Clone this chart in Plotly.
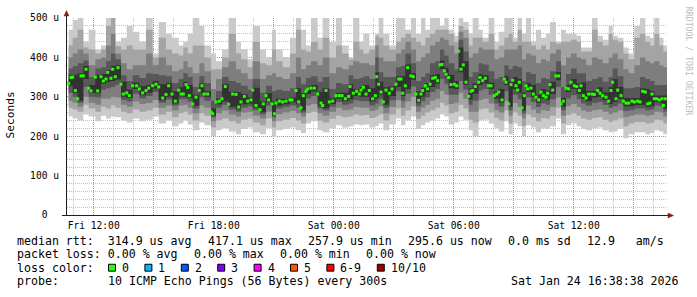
import pandas as pd
import plotly.graph_objects as go

START = "2026-01-23 10:40"
END = "2026-01-24 16:40"

# minutes after START of each median reading
median_minutes = [
    5, 12, 17, 25, 32, 42, 49, 57, 65, 72, 85, 92, 102, 109, 117, 122, 132, 137, 145, 153, 162, 169, 179, 187, 197, 209, 217, 227, 237, 245, 257, 267, 275, 287, 297, 305, 315, 325, 335, 342, 349, 357,
    362, 367, 377, 387, 397, 405, 412, 422, 432, 437, 447, 457, 465, 475, 485, 497, 507, 515, 522, 532, 542, 552, 557, 567, 579, 589, 597, 605, 615, 622, 627, 637, 647, 657, 669, 675, 687, 695, 702, 709, 717,
    722, 732, 742, 752, 762, 767, 777, 787, 797, 807, 817, 825, 835, 845, 849, 859, 869, 877, 882, 889, 897, 907, 917, 925, 929, 935, 942, 949, 957, 967, 975, 987, 995, 1002, 1007, 1015, 1022, 1032, 1039, 1047, 1055, 1062, 1067, 1075,
    1082, 1089, 1097, 1105, 1112, 1119, 1125, 1132, 1137, 1145, 1152, 1162, 1169, 1175, 1182, 1189, 1197, 1205, 1212, 1217, 1225, 1235, 1239, 1247, 1255, 1265, 1272, 1282, 1289, 1295, 1305, 1312, 1317, 1325, 1332, 1337, 1347, 1352, 1357, 1365, 1372, 1377, 1382, 1392, 1399, 1407, 1415, 1422, 1429, 1437,
    1442, 1449, 1457, 1467, 1475, 1482, 1489, 1497, 1505, 1512, 1522, 1529, 1537, 1542, 1549, 1557, 1565, 1575, 1582, 1592, 1599, 1607, 1617, 1625, 1632, 1637, 1647, 1652, 1662, 1669, 1677, 1685, 1695, 1702, 1712, 1719, 1727, 1735, 1742, 1749, 1755, 1762, 1769, 1777, 1785, 1789, 1795,
]
# median rtt in microseconds
median_us = [
    334, 349, 350, 316, 295, 353, 353, 370, 322, 315, 350, 315, 351, 340, 345, 362, 347, 370, 351, 374, 332, 307, 310, 303, 328, 328, 320, 310, 316, 322, 328, 332, 325, 297, 306, 328, 307, 289, 317, 307, 307, 331,
    324, 303, 282, 299, 316, 328, 307, 307, 262, 257, 287, 289, 295, 326, 281, 307, 306, 274, 287, 301, 289, 292, 317, 278, 267, 282, 303, 292, 282, 257, 284, 289, 287, 289, 292, 292, 316, 287, 272, 303, 314,
    320, 322, 322, 307, 284, 278, 316, 287, 289, 303, 303, 303, 295, 301, 326, 309, 314, 307, 317, 324, 307, 316, 295, 303, 351, 332, 312, 287, 317, 309, 320, 332, 345, 345, 309, 328, 374, 353, 351, 307, 291, 307, 316, 328,
    320, 332, 347, 349, 341, 381, 382, 366, 357, 349, 331, 332, 328, 416, 370, 381, 337, 301, 314, 316, 326, 337, 349, 341, 347, 328, 328, 303, 307, 312, 292, 345, 337, 282, 331, 342, 328, 317, 337, 272, 303, 328, 320, 322, 307, 299, 292, 312, 303, 299,
    309, 331, 317, 353, 353, 282, 289, 322, 320, 337, 328, 326, 316, 328, 303, 297, 307, 307, 306, 316, 309, 303, 299, 289, 316, 337, 295, 317, 303, 289, 284, 284, 289, 287, 289, 287, 314, 312, 282, 284, 307, 295, 295, 292, 295, 278, 295,
]

# smoke: the 10 sorted ping rtts (us) of each pair of readings, fastest (p1) to slowest (p10)
p1 = [250, 245, 240, 255, 250, 238, 252, 245, 250, 248, 240, 235, 245, 238, 242, 250, 232, 240, 225, 232,
      240, 230, 215, 235, 228, 200, 215, 220, 212, 205, 218, 222, 210, 205, 220, 198, 215, 218, 222, 215,
      208, 232, 238, 215, 210, 220, 228, 222, 225, 230, 228, 230, 222, 226, 232, 215, 230, 245, 228, 240,
      250, 218, 228, 235, 240, 245, 255, 250, 230, 235, 250, 242, 215, 200, 240, 242, 232, 220, 212, 238,
      205, 232, 225, 200, 228, 222, 210, 220, 218, 225, 245, 205, 228, 232, 225, 218, 215, 220, 222, 215,
      210, 212, 218, 195, 205, 210, 210, 205, 208, 215, 212, 205]
p2 = [272, 268, 262, 280, 270, 262, 275, 270, 278, 272, 262, 258, 268, 262, 265, 272, 255, 262, 248, 258,
      262, 255, 240, 258, 252, 222, 240, 245, 238, 232, 242, 245, 235, 228, 245, 222, 238, 242, 246, 240,
      232, 258, 262, 240, 235, 244, 252, 248, 250, 255, 252, 254, 246, 250, 256, 240, 255, 270, 252, 265,
      276, 244, 252, 260, 266, 272, 285, 278, 258, 262, 280, 270, 242, 235, 268, 270, 260, 246, 240, 265,
      232, 260, 252, 226, 255, 248, 238, 246, 244, 252, 272, 232, 254, 258, 252, 245, 242, 246, 248, 242,
      236, 240, 245, 225, 232, 236, 236, 232, 234, 242, 240, 232]
p3 = [290, 285, 275, 300, 285, 280, 295, 295, 300, 298, 280, 275, 288, 282, 284, 292, 272, 278, 265, 278,
      280, 272, 258, 278, 272, 238, 258, 265, 255, 250, 260, 262, 252, 245, 262, 238, 256, 260, 264, 258,
      250, 278, 282, 258, 252, 262, 272, 266, 268, 274, 272, 272, 264, 268, 276, 258, 274, 292, 272, 288,
      300, 262, 272, 280, 290, 295, 315, 305, 282, 285, 310, 295, 262, 262, 292, 295, 283, 266, 260, 290,
      252, 284, 274, 245, 278, 268, 258, 266, 264, 274, 298, 252, 276, 282, 274, 265, 262, 266, 268, 262,
      256, 260, 265, 248, 252, 255, 255, 252, 254, 262, 260, 250]
p4 = [310, 300, 285, 325, 300, 298, 318, 322, 325, 330, 292, 288, 308, 296, 302, 312, 285, 293, 278, 294,
      294, 288, 270, 298, 290, 248, 272, 280, 268, 262, 273, 276, 266, 256, 277, 248, 270, 274, 278, 272,
      260, 296, 302, 270, 265, 275, 287, 280, 283, 291, 289, 289, 278, 283, 294, 272, 291, 314, 290, 308,
      326, 276, 289, 298, 312, 320, 345, 332, 305, 305, 340, 318, 280, 290, 316, 320, 305, 283, 275, 314,
      266, 305, 294, 258, 298, 287, 274, 283, 280, 294, 325, 266, 296, 304, 294, 283, 278, 284, 287, 279,
      272, 276, 283, 264, 266, 270, 270, 266, 268, 278, 276, 263]
p5 = [328, 310, 290, 345, 310, 309, 333, 338, 340, 344, 300, 297, 320, 304, 310, 321, 291, 300, 283, 301,
      300, 297, 277, 310, 300, 252, 281, 289, 275, 268, 281, 283, 272, 261, 286, 252, 278, 281, 286, 281,
      266, 307, 314, 277, 271, 282, 296, 289, 294, 302, 300, 300, 288, 296, 305, 280, 302, 325, 302, 320,
      343, 284, 300, 312, 325, 334, 370, 350, 322, 320, 362, 330, 293, 308, 330, 334, 320, 295, 285, 330,
      275, 320, 310, 265, 313, 300, 285, 296, 292, 308, 342, 275, 312, 320, 308, 295, 289, 298, 300, 291,
      282, 287, 295, 276, 276, 279, 279, 274, 276, 287, 284, 270]
p6 = [356, 356, 360, 378, 330, 356, 358, 368, 378, 380, 338, 318, 336, 327, 330, 340, 332, 335, 314, 324,
      338, 330, 305, 334, 314, 270, 296, 332, 313, 312, 307, 298, 323, 288, 309, 288, 295, 295, 298, 322,
      309, 326, 330, 313, 322, 296, 310, 310, 332, 320, 324, 330, 322, 362, 338, 324, 327, 352, 352, 382,
      360, 314, 323, 335, 355, 358, 392, 374, 356, 340, 425, 390, 322, 334, 357, 355, 336, 315, 320, 353,
      338, 350, 345, 310, 335, 330, 306, 320, 316, 338, 362, 297, 330, 345, 334, 336, 315, 315, 324, 311,
      324, 345, 325, 297, 297, 297, 322, 320, 315, 303, 303, 303]
p7 = [372, 378, 385, 392, 350, 372, 375, 390, 410, 395, 355, 340, 355, 348, 360, 358, 355, 352, 335, 345,
      360, 350, 325, 352, 335, 290, 315, 350, 340, 335, 328, 318, 345, 310, 328, 315, 318, 315, 322, 350,
      332, 348, 352, 338, 350, 320, 335, 332, 355, 345, 348, 352, 345, 400, 362, 350, 350, 375, 378, 410,
      385, 340, 350, 360, 385, 390, 420, 405, 385, 370, 445, 415, 350, 362, 385, 382, 365, 345, 350, 380,
      370, 378, 375, 340, 362, 358, 335, 348, 345, 365, 390, 325, 358, 372, 360, 360, 340, 345, 350, 338,
      350, 372, 352, 322, 322, 325, 350, 345, 340, 330, 330, 330]
p8 = [400, 410, 420, 410, 380, 395, 400, 430, 460, 410, 385, 370, 380, 380, 410, 380, 400, 380, 365, 370,
      390, 375, 360, 385, 365, 320, 345, 375, 390, 370, 360, 345, 390, 345, 355, 360, 350, 345, 360, 400,
      370, 380, 390, 380, 400, 360, 375, 370, 380, 390, 385, 385, 380, 430, 400, 390, 390, 410, 420, 440,
      420, 390, 400, 410, 430, 440, 450, 445, 430, 410, 465, 450, 400, 410, 425, 420, 420, 395, 400, 420,
      420, 420, 430, 395, 410, 405, 385, 395, 390, 410, 420, 380, 400, 410, 400, 395, 380, 400, 395, 385,
      400, 410, 395, 370, 360, 380, 400, 390, 385, 390, 380, 375]
p9 = [430, 450, 470, 425, 420, 410, 420, 480, 510, 428, 420, 430, 420, 420, 470, 400, 450, 420, 410, 405,
      425, 410, 430, 430, 400, 370, 370, 400, 460, 410, 395, 375, 440, 385, 380, 420, 390, 375, 410, 470,
      420, 415, 440, 420, 450, 400, 430, 410, 395, 440, 420, 410, 420, 455, 450, 430, 420, 440, 450, 460,
      450, 440, 430, 450, 460, 470, 470, 470, 460, 440, 480, 470, 430, 450, 450, 440, 460, 420, 430, 450,
      460, 440, 470, 440, 440, 430, 420, 430, 420, 440, 435, 440, 440, 445, 440, 415, 415, 470, 440, 430,
      460, 445, 440, 410, 395, 450, 460, 440, 430, 460, 430, 415]
p10 = [470, 495, 520, 440, 470, 420, 430, 520, 530, 440, 450, 480, 465, 440, 510, 410, 490, 460, 450, 430,
       440, 460, 520, 480, 430, 410, 390, 420, 510, 440, 420, 395, 480, 420, 400, 470, 420, 400, 450, 520,
       470, 430, 500, 450, 520, 440, 500, 430, 400, 500, 440, 460, 430, 460, 520, 460, 430, 500, 520, 470,
       520, 460, 510, 470, 520, 500, 480, 520, 470, 455, 520, 490, 460, 520, 470, 450, 520, 440, 465, 500,
       500, 450, 520, 460, 500, 440, 470, 450, 460, 490, 440, 470, 460, 460, 455, 425, 425, 510, 455, 445,
       480, 455, 450, 425, 410, 480, 520, 455, 450, 520, 450, 430]

x_tick_times = ["2026-01-23 12:00", "2026-01-23 15:00", "2026-01-23 18:00", "2026-01-23 21:00",
                "2026-01-24 00:00", "2026-01-24 03:00", "2026-01-24 06:00", "2026-01-24 09:00",
                "2026-01-24 12:00", "2026-01-24 15:00"]
x_tick_labels = ["Fri 12:00", "", "Fri 18:00", "", "Sat 00:00", "", "Sat 06:00", "", "Sat 12:00", ""]
y_tick_vals = [0, 100, 200, 300, 400, 500]
y_tick_labels = ["0", "100 u", "200 u", "300 u", "400 u", "500 u"]

smoke_greys = ["#cacaca", "#a4a4a4", "#7e7e7e", "#585858", "#323232"]
loss_labels = ["0", "1", "2", "3", "4", "5", "6-9", "10/10"]
loss_colors = ["#26ff00", "#00b8ff", "#0059ff", "#7e00ff", "#ff00ff", "#ff5500", "#ff0000", "#a10000"]

stats_line = ["median rtt:  314.9 us avg", "417.1 us max", "257.9 us min", "295.6 us now", "0.0 ms sd", "12.9   am/s"]
loss_line = ["packet loss: 0.00 % avg", "0.00 % max", "0.00 % min", "0.00 % now"]
probe_text = "10 ICMP Echo Pings (56 Bytes) every 300s"
stamp_text = "Sat Jan 24 16:38:38 2026"

MONO = "DejaVu Sans Mono"
NB = "\u00a0"

# ---------- geometry helpers (pixel -> paper) ----------
L, T, W, H = 67, 15, 600, 200


def px(xp):
    return (xp - L) / W


def py(yp):
    return (T + H - yp) / H


times = pd.Timestamp(START) + pd.to_timedelta(median_minutes, unit="m")
smoke_t = list(times[::2]) + [pd.Timestamp(END)]
pings = [p1, p2, p3, p4, p5, p6, p7, p8, p9, p10]

fig = go.Figure()
for i in range(5):
    lo = pings[i] + [pings[i][-1]]
    hi = pings[9 - i] + [pings[9 - i][-1]]
    fig.add_trace(go.Scatter(x=smoke_t, y=lo, mode="lines", line=dict(width=0, shape="hv"),
                             hoverinfo="skip", showlegend=False))
    fig.add_trace(go.Scatter(x=smoke_t, y=hi, mode="lines", line=dict(width=0, shape="hv"),
                             fill="tonexty", fillcolor=smoke_greys[i], hoverinfo="skip", showlegend=False))

fig.add_trace(go.Scatter(x=times, y=median_us, mode="markers",
                         marker=dict(symbol="square", size=3, color=loss_colors[0], line=dict(width=0)),
                         showlegend=False))

minor_grid = "rgba(143,143,143,0.55)"
major_grid = "rgba(222,79,79,0.6)"

fig.update_layout(
    width=697, height=297, autosize=False,
    margin=dict(l=L, r=697 - L - W, t=T, b=297 - T - H, pad=0),
    paper_bgcolor="white", plot_bgcolor="white",
    font=dict(family=MONO, size=10, color="black"),
    showlegend=False,
    xaxis=dict(
        type="date", range=[START, END], tickmode="array",
        tickvals=x_tick_times, ticktext=x_tick_labels,
        showgrid=True, gridcolor=major_grid, griddash="1px,1px", gridwidth=1,
        minor=dict(dtick=3600000, tick0="2026-01-23 00:00", showgrid=True,
                   gridcolor=minor_grid, griddash="1px,1px", gridwidth=1),
        zeroline=False, showline=False, ticks="",
        ticklabelstandoff=3,
        tickfont=dict(family=MONO, size=9.6, color="black"),
        fixedrange=True,
    ),
    yaxis=dict(
        range=[0, 500], tickmode="array", tickvals=y_tick_vals,
        ticktext=[t if t != "0" else t + NB * 2 for t in y_tick_labels],
        showgrid=True, gridcolor=major_grid, griddash="1px,1px", gridwidth=1,
        minor=dict(dtick=20, showgrid=True, gridcolor=minor_grid, griddash="1px,1px", gridwidth=1),
        zeroline=False, showline=False, ticks="",
        ticklabelstandoff=7,
        tickfont=dict(family=MONO, size=9.6, color="black"),
        fixedrange=True,
    ),
)

shapes = []
axis_col = "#1f1f1f"
arrow_col = "#801f1f"
# y axis + arrow
shapes.append(dict(type="line", xref="paper", yref="paper", x0=px(66.5), x1=px(66.5),
                   y0=py(215.5), y1=py(12), line=dict(color=axis_col, width=1)))
shapes.append(dict(type="path", xref="paper", yref="paper",
                   path=f"M {px(64)} {py(13)} L {px(69)} {py(13)} L {px(66.5)} {py(7.5)} Z",
                   fillcolor=arrow_col, line=dict(color=arrow_col, width=0.5)))
# x axis + arrow
shapes.append(dict(type="line", xref="paper", yref="paper", x0=px(62), x1=px(669),
                   y0=py(215.5), y1=py(215.5), line=dict(color=axis_col, width=1)))
shapes.append(dict(type="path", xref="paper", yref="paper",
                   path=f"M {px(668)} {py(213)} L {px(668)} {py(218)} L {px(673.5)} {py(215.5)} Z",
                   fillcolor=arrow_col, line=dict(color=arrow_col, width=0.5)))

annotations = []


def text(x, y, s, anchor="left", size=11.6, color="black", angle=0):
    annotations.append(dict(xref="paper", yref="paper", x=px(x), y=py(y), text=s.replace(" ", NB),
                            showarrow=False, xanchor=anchor, yanchor="middle", textangle=angle,
                            font=dict(family=MONO, size=size, color=color), borderpad=0))


# legend lines
stats_x = [16, 206.5, 306.5, 406.5, 506.5, 585.5]
for s, x in zip(stats_line, stats_x):
    text(x, 241, s)
loss_x = [16, 193, 279, 365]
for s, x in zip(loss_line, loss_x):
    text(x, 255, s)
text(16, 268.5, "loss color:")
bx = 108.5
for lab, col in zip(loss_labels, loss_colors):
    shapes.append(dict(type="rect", xref="paper", yref="paper", x0=px(bx), x1=px(bx + 7),
                       y0=py(272), y1=py(265), fillcolor=col, line=dict(color="black", width=1)))
    text(bx + 12.4, 268.5, lab)
    bx += 12.4 + 7 * len(lab) + 17
text(16, 282.5, "probe:")
text(107.3, 282.5, probe_text)
text(680, 282.5, stamp_text, anchor="right")

# axis title & watermark
text(10.5, 113.5, "Seconds", anchor="center", size=11.2, angle=-90)
text(688.5, 59, "RRDTOOL / TOBI OETIKER", anchor="center", size=8.2, color="#bdbdbd", angle=90)

fig.update_layout(shapes=shapes, annotations=annotations)
fig.write_html("out.html")
